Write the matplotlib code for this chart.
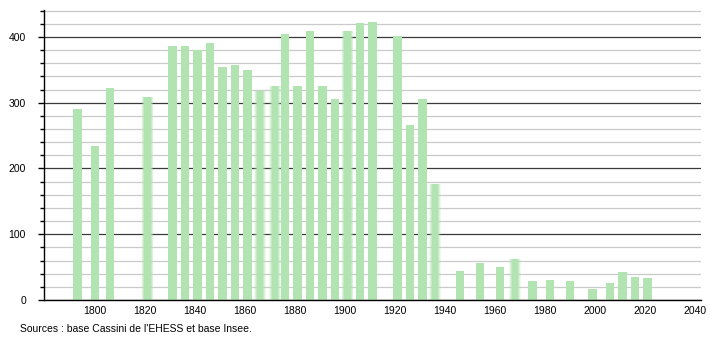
import matplotlib.pyplot as plt
from matplotlib.ticker import MultipleLocator

years = [1793, 1800, 1806, 1821, 1831, 1836, 1841, 1846, 1851, 1856,
         1861, 1866, 1872, 1876, 1881, 1886, 1891, 1896, 1901, 1906,
         1911, 1921, 1926, 1931, 1936, 1946, 1954, 1962, 1968, 1975,
         1982, 1990, 1999, 2006, 2011, 2016, 2021]
population = [290, 234, 323, 309, 386, 386, 380, 391, 354, 357,
              350, 318, 325, 405, 326, 409, 326, 305, 409, 421,
              423, 401, 266, 305, 176, 44, 56, 50, 62, 29,
              31, 29, 17, 26, 42, 35, 34]
# years whose bar looks soft-edged in the original
blurred = [1821, 1866, 1872, 1901, 1936, 1968]

bar_color = '#b1e4b1'

plt.rcParams['font.family'] = ['Liberation Sans', 'DejaVu Sans']

fig = plt.figure(figsize=(7.1, 3.4), dpi=100)
ax = fig.add_axes([44 / 710, 40 / 340, 657 / 710, 290 / 340])

for y, p in zip(years, population):
    if y in blurred:
        # fake the blur with a few translucent layers
        for w, a in [(4.8, 0.2), (4.2, 0.3), (3.6, 0.5), (2.6, 1.0)]:
            ax.bar(y, p, width=w, color=bar_color, alpha=a, linewidth=0, zorder=2)
    else:
        ax.bar(y, p, width=3.3, color=bar_color, linewidth=0, zorder=2)

ax.set_xlim(1779.6, 2042.4)
ax.set_ylim(0, 441)

ax.yaxis.set_major_locator(MultipleLocator(100))
ax.yaxis.set_minor_locator(MultipleLocator(20))
ax.set_xticks(range(1800, 2041, 20))

ax.grid(which='minor', axis='y', color='#cacaca', linewidth=0.9, zorder=0)
ax.grid(which='major', axis='y', color='#3a3a3a', linewidth=0.9, zorder=1)
ax.set_axisbelow(True)

for side in ['top', 'right']:
    ax.spines[side].set_visible(False)
ax.spines['left'].set_linewidth(1)
ax.spines['bottom'].set_linewidth(1)

ax.tick_params(axis='y', which='major', length=4, width=1, labelsize=7.5, pad=9)
ax.tick_params(axis='y', which='minor', length=3, width=1)
ax.tick_params(axis='x', length=0, labelsize=7.5, pad=4)

fig.text(20 / 710, 1 - 329 / 340, "Sources : base Cassini de l'EHESS et base Insee.",
         fontsize=7.5, va='center', ha='left')

fig.savefig('out.png', dpi=100)
